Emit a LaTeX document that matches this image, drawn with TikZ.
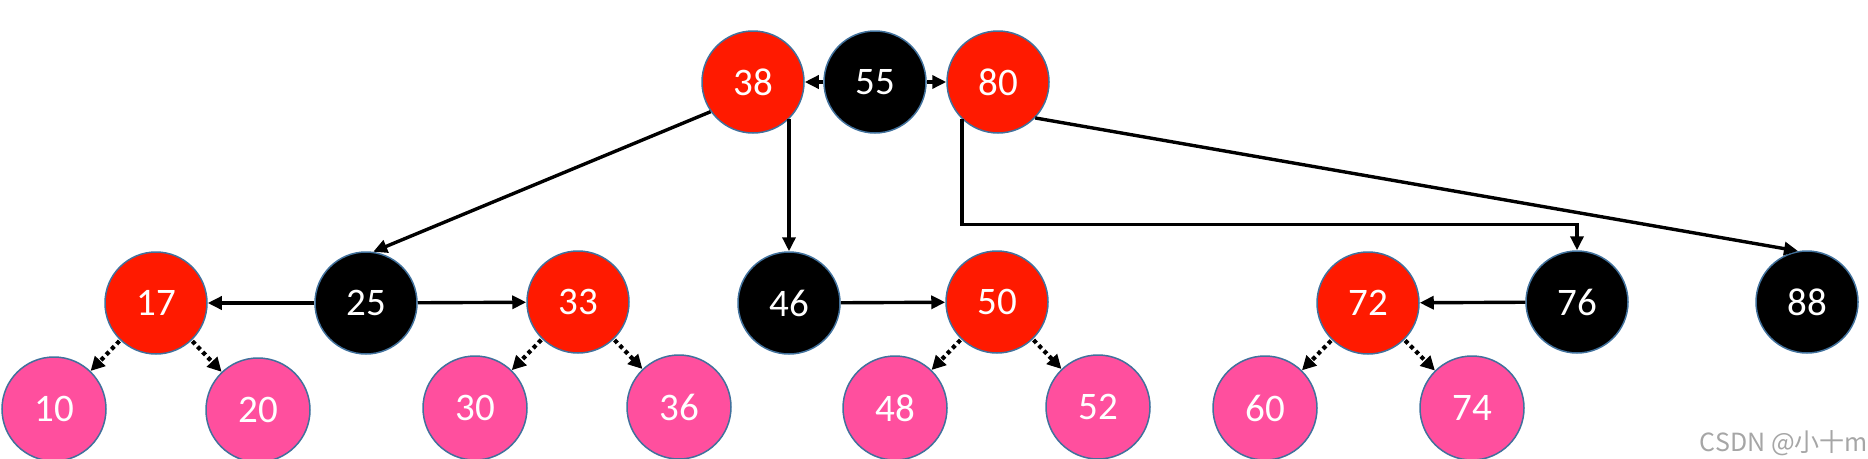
\documentclass[tikz,border=0pt]{standalone}
\usepackage{fontspec}
\setmainfont{Carlito}
\newfontfamily\cjk{Noto Sans CJK SC}
\usetikzlibrary{arrows.meta}
\definecolor{rbred}{HTML}{FF1A00}
\definecolor{rbpink}{HTML}{FF4F9E}
\definecolor{outl}{HTML}{41719C}
\tikzset{
  nd/.style={circle, minimum size=102pt, inner sep=0pt, draw=outl, line width=1.5pt,
    text=white, font=\fontsize{39}{39}\selectfont},
  rnode/.style={nd, fill=rbred},
  bnode/.style={nd, fill=black},
  pnode/.style={nd, fill=rbpink, minimum size=104pt},
  arr/.style={line width=3.4pt, -{Triangle[length=14pt,width=13pt]}},
  dotarr/.style={line width=4.2pt, dash pattern=on 4pt off 3.5pt,
    -{Triangle[length=14pt,width=14pt]}, shorten <=1pt}
}
\begin{document}
\begin{tikzpicture}[x=1pt,y=-1pt]
\useasboundingbox (0,0) rectangle (1868,458);
% top
\node[rnode] (n38) at (753,82) {38};
\node[bnode] (n55) at (875,82) {55};
\node[rnode] (n80) at (998,82) {80};
% middle
\node[rnode] (n17) at (156,303) {17};
\node[bnode] (n25) at (366,303) {25};
\node[rnode] (n33) at (578,302) {33};
\node[bnode] (n46) at (789,303) {46};
\node[rnode] (n50) at (997,302) {50};
\node[rnode] (n72) at (1368,303) {72};
\node[bnode] (n76) at (1577,302) {76};
\node[bnode] (n88) at (1807,302) {88};
% bottom
\node[pnode] (n10) at (54,409) {10};
\node[pnode] (n20) at (258,410) {20};
\node[pnode] (n30) at (475,408) {30};
\node[pnode] (n36) at (679,407) {36};
\node[pnode] (n48) at (895,408) {48};
\node[pnode] (n52) at (1098,407) {52};
\node[pnode] (n60) at (1265,408) {60};
\node[pnode] (n74) at (1472,408) {74};
% top links
\draw[arr] (n55) -- (n38);
\draw[arr] (n55) -- (n80);
\draw[arr] (n38.215) -- (n25.82);
\draw[arr] (n46.north |- n38.-45) -- (n46.north);
\draw[arr] (n80.226) -- ++(0,105) -| (n76.north);
\draw[arr] (n80.-44) -- (n88.100);
% middle links
\draw[arr] (n25) -- (n17);
\draw[arr] (n25) -- (n33);
\draw[arr] (n46) -- (n50);
\draw[arr] (n76) -- (n72);
% dotted links
\draw[dotarr] (n17) -- (n10);
\draw[dotarr] (n17) -- (n20);
\draw[dotarr] (n33) -- (n30);
\draw[dotarr] (n33) -- (n36);
\draw[dotarr] (n50) -- (n48);
\draw[dotarr] (n50) -- (n52);
\draw[dotarr] (n72) -- (n60);
\draw[dotarr] (n72) -- (n74);
% watermark
\node[anchor=south east, inner sep=0pt, text=black!35, font=\cjk\fontsize{25}{25}\selectfont] (wm) at (1868,456) {CSDN @小十m};
\end{tikzpicture}
\end{document}
